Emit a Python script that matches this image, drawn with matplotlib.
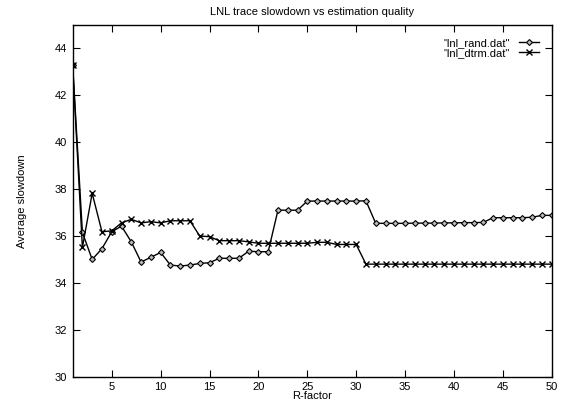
import numpy as np
import matplotlib
matplotlib.use("Agg")
import matplotlib.pyplot as plt

plt.rcParams['font.family'] = ['Liberation Sans', 'DejaVu Sans']

# R-factor values 1..50
r_factor = list(range(1, 51))

# "lnl_rand.dat" - diamonds
lnl_rand = [43.3, 36.15, 35.0, 35.46, 36.18, 36.42, 35.75, 34.89, 35.09, 35.3,
            34.76, 34.72, 34.76, 34.83, 34.86, 35.05, 35.05, 35.05, 35.35, 35.33,
            35.33, 37.1, 37.1, 37.1, 37.49, 37.49, 37.49, 37.49, 37.49, 37.49,
            37.5, 36.54, 36.54, 36.54, 36.54, 36.55, 36.55, 36.55, 36.56, 36.56,
            36.57, 36.57, 36.58, 36.78, 36.78, 36.78, 36.78, 36.8, 36.88, 36.88]

# "lnl_dtrm.dat" - crosses
lnl_dtrm = [43.3, 35.51, 37.82, 36.18, 36.22, 36.56, 36.71, 36.56, 36.61, 36.56,
            36.65, 36.65, 36.65, 36.0, 35.97, 35.8, 35.8, 35.8, 35.75, 35.69,
            35.69, 35.69, 35.69, 35.69, 35.69, 35.73, 35.73, 35.64, 35.64, 35.64,
            34.8, 34.8, 34.8, 34.8, 34.8, 34.8, 34.8, 34.8, 34.8, 34.8,
            34.8, 34.8, 34.8, 34.8, 34.8, 34.8, 34.8, 34.8, 34.8, 34.8]

x_ticks = list(range(5, 51, 5))
y_ticks = list(range(30, 45, 2))

fig = plt.figure(figsize=(5.63, 4.04), dpi=100)
ax = fig.add_axes([0.129, 0.0676, 0.851, 0.8706])

ax.plot(r_factor, lnl_rand, color='black', lw=1.0, marker='D', ms=3.0,
        mfc='#bbbbbb', mec='black', mew=0.8, label='"lnl_rand.dat"')
ax.plot(r_factor, lnl_dtrm, color='black', lw=1.0, marker='x', ms=4.0,
        mew=1.0, label='"lnl_dtrm.dat"')

ax.set_xlim(1, 50)
ax.set_ylim(30, 45)
ax.set_xticks(x_ticks)
ax.set_yticks(y_ticks)
ax.tick_params(direction='in', top=True, right=True, length=5, width=0.8,
               labelsize=8, pad=4)
for s in ax.spines.values():
    s.set_linewidth(1.0)

ax.set_title('LNL trace slowdown vs estimation quality', fontsize=8, pad=7)
ax.set_xlabel('R-factor', fontsize=8, labelpad=-1)
ax.set_ylabel('Average slowdown', fontsize=8, labelpad=20)

ax.legend(loc='upper right', markerfirst=False, frameon=False, fontsize=8,
          handlelength=1.8, handletextpad=0.8, labelspacing=0.0,
          borderaxespad=0.75)

fig.savefig('out.png', dpi=100)
